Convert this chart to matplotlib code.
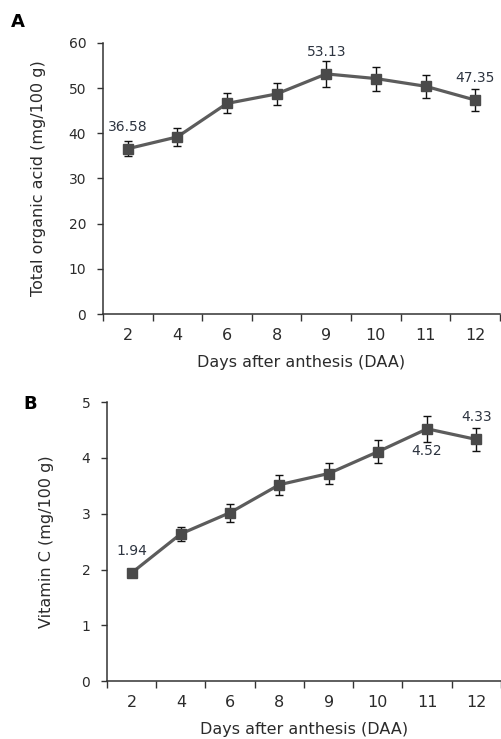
import matplotlib
matplotlib.use('Agg')
from matplotlib import pyplot as plt
from matplotlib.ticker import FixedLocator, NullFormatter
import numpy as np

days = ['2', '4', '6', '8', '9', '10', '11', '12']

acid = [36.58, 39.2, 46.6, 48.7, 53.13, 52.1, 50.4, 47.35]
acid_err = [1.7, 1.95, 2.2, 2.4, 2.8, 2.65, 2.5, 2.4]

vitc = [1.94, 2.64, 3.02, 3.52, 3.72, 4.11, 4.52, 4.33]
vitc_err = [0.05, 0.12, 0.16, 0.18, 0.18, 0.21, 0.23, 0.21]

# which points get a value label, and whether above (+) or below (-)
acid_labels = {0: 1, 4: 1, 7: 1}
vitc_labels = {0: 1, 6: -1, 7: 1}

LINE = '#5c5c5c'
MARK = '#4a4a4a'
TXT = '#2b2b2b'
LBL = '#2d3440'

plt.rcParams['font.family'] = ['DejaVu Sans']


def draw_panel(ax, values, errors, labels, ymax, ystep, ylabel, fmt, pad,
               ylab_x, xlab_y):
    x = np.arange(len(days))
    ax.plot(x, values, color=LINE, lw=2.3, zorder=2)
    ax.errorbar(x, values, yerr=errors, fmt='none', ecolor='#111111',
                elinewidth=1.0, capsize=2.6, capthick=1.0, zorder=3)
    ax.plot(x, values, ls='none', marker='s', ms=7, color=MARK, zorder=4)

    for i, side in labels.items():
        ax.annotate(fmt.format(values[i]), (x[i], values[i]),
                    xytext=(0, side * pad), textcoords='offset points',
                    ha='center', va='center', fontsize=10, color=LBL)

    ax.set_xlim(-0.5, len(days) - 0.5)
    ax.set_ylim(0, ymax)
    ax.set_yticks(np.arange(0, ymax + ystep / 2, ystep))

    ax.xaxis.set_major_locator(FixedLocator(np.arange(-0.5, len(days), 1.0)))
    ax.xaxis.set_major_formatter(NullFormatter())
    ax.xaxis.set_minor_locator(FixedLocator(x))
    ax.set_xticklabels(days, minor=True)
    ax.tick_params(axis='x', which='major', length=5, width=1, color='#333333')
    ax.tick_params(axis='x', which='minor', length=0, pad=10,
                   labelsize=11.5, labelcolor=TXT)
    ax.tick_params(axis='y', length=4, width=1, color='#333333',
                   labelsize=10, labelcolor=TXT, pad=8)

    for s in ['top', 'right']:
        ax.spines[s].set_visible(False)
    for s in ['left', 'bottom']:
        ax.spines[s].set_color('#333333')
        ax.spines[s].set_linewidth(1.1)

    ax.set_xlabel('Days after anthesis (DAA)', fontsize=11.5, color=TXT)
    ax.set_ylabel(ylabel, fontsize=11.5, color=TXT)
    ax.yaxis.set_label_coords(ylab_x, 0.5)
    ax.xaxis.set_label_coords(0.5, xlab_y)


fig = plt.figure(figsize=(5.02, 7.39), dpi=100)

ax1 = fig.add_axes([0.205, 0.575, 0.791, 0.367])
draw_panel(ax1, acid, acid_err, acid_labels, 60, 10,
           'Total organic acid (mg/100 g)', '{:.2f}', 16, -0.144, -0.151)

ax2 = fig.add_axes([0.213, 0.078, 0.785, 0.378])
draw_panel(ax2, vitc, vitc_err, vitc_labels, 5, 1,
           'Vitamin C (mg/100 g)', '{:.2f}', 16, -0.135, -0.146)

fig.text(18 / 502, 1 - 22 / 739, 'A', fontsize=13, fontweight='bold',
         ha='center', va='center', color='black')
fig.text(30 / 502, 1 - 404 / 739, 'B', fontsize=13, fontweight='bold',
         ha='center', va='center', color='black')

fig.savefig('out.png', dpi=100)
